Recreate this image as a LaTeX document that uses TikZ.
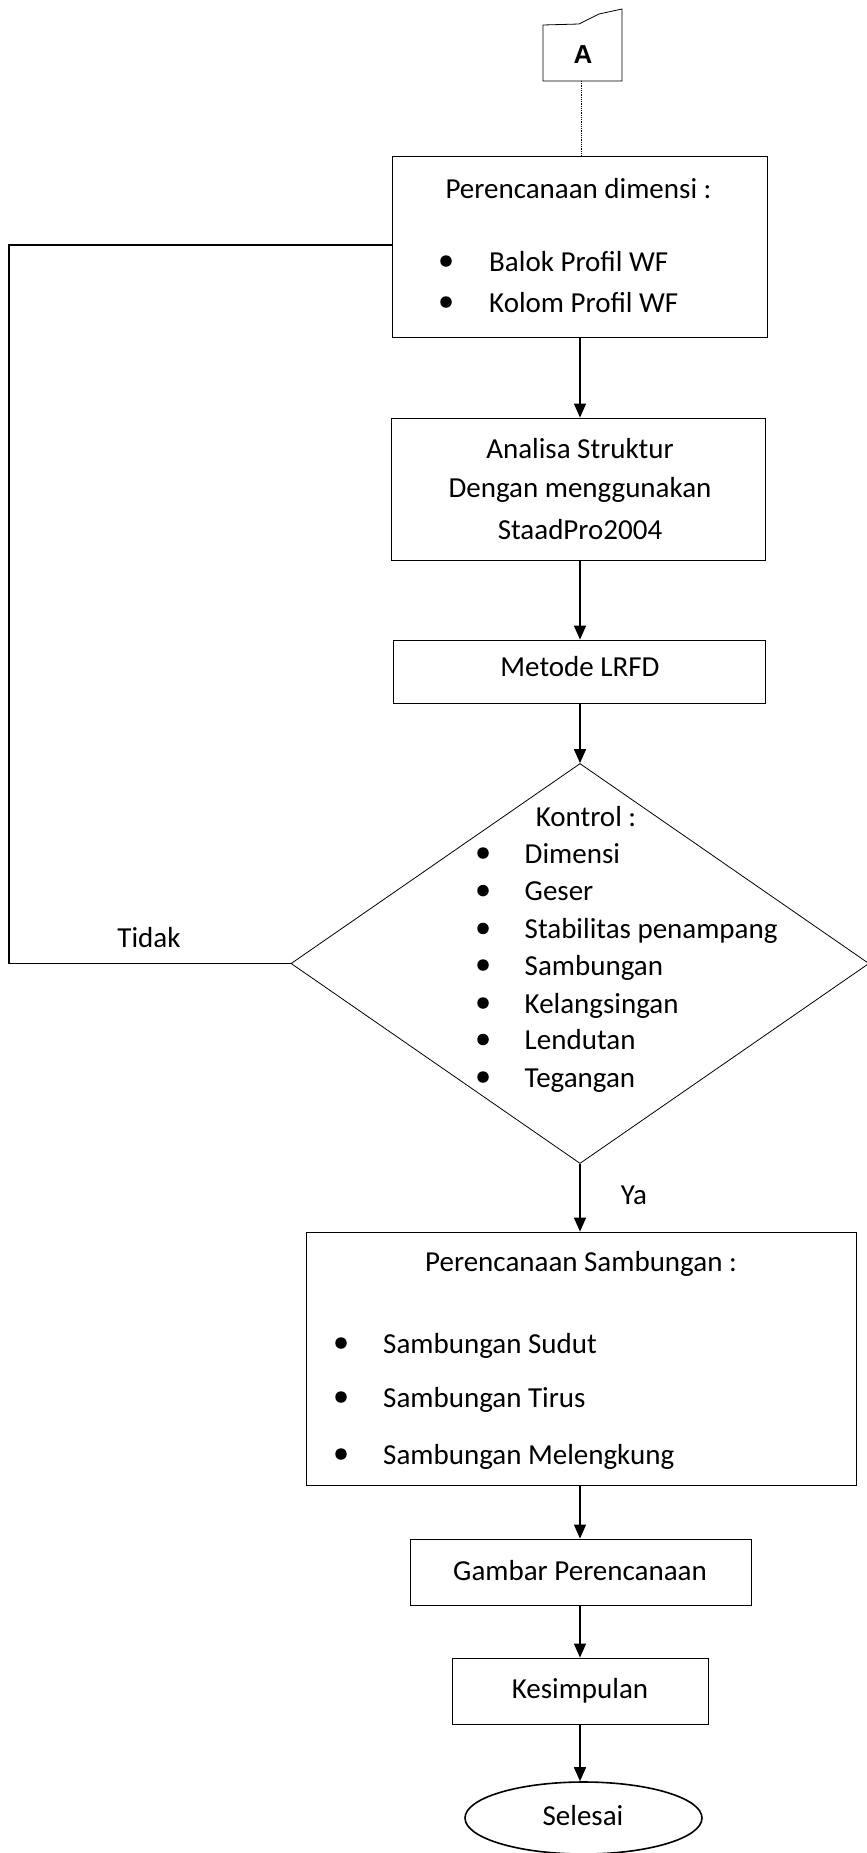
\documentclass[tikz,border=0pt]{standalone}
\usepackage{fontspec}
\setmainfont{Carlito}
\newfontfamily\arialfont{Liberation Sans}
\usetikzlibrary{shapes.geometric,arrows.meta}
\begin{document}
\begin{tikzpicture}[x=1pt,y=-1pt,
  box/.style={draw, line width=0.8pt, inner sep=0pt},
  txt/.style={font=\fontsize{29}{35}\selectfont, inner sep=0pt},
  ctxt/.style={txt, anchor=base, yshift=-10.3pt},
  ltxt/.style={txt, anchor=base west, yshift=-10.3pt},
  arr/.style={line width=1.6pt, -{Triangle[length=14pt,width=12pt]}},
  bul/.style={circle, fill, inner sep=0pt, minimum size=11.5pt},
  loopline/.style={line width=1.6pt}
]
\useasboundingbox (0,0) rectangle (867,1853);
\clip (0,0) rectangle (867,1853);

% off-page connector A
\draw[line width=0.8pt] (543,81) -- (543,25) -- (579,24) -- (599,14) -- (622,9) -- (622,81) -- cycle;
\node[inner sep=0pt, font=\arialfont\bfseries\fontsize{26}{30}\selectfont] (A) at (583,55) {A};
\coordinate (Abot) at (581,81);

% boxes
\node[box, minimum width=375pt, minimum height=181pt] (b1) at (579.5,246.5) {};
\node[box, minimum width=374pt, minimum height=142pt] (b2) at (578,489) {};
\node[box, minimum width=372pt, minimum height=63pt] (b3) at (579,671.5) {};
\node[draw, line width=0.8pt, diamond, inner sep=0pt, minimum width=578pt, minimum height=400pt] (dia) at (580,963.5) {};
\node[box, minimum width=550pt, minimum height=253pt] (b4) at (581,1358.5) {};
\node[box, minimum width=341pt, minimum height=66pt] (b5) at (580.5,1572) {};
\node[box, minimum width=256pt, minimum height=66pt] (b6) at (580,1691) {};
\node[draw, line width=1.6pt, ellipse, inner sep=0pt, minimum width=237pt, minimum height=72pt] (end) at (583.5,1818) {};

% texts box1
\node[ctxt] (t1) at (578.5,188) {Perencanaan dimensi :};
\node[bul] (b1a) at (446,261) {};
\node[ltxt] (t1a) at (489,261) {Balok Profil WF};
\node[bul] (b1b) at (446,302) {};
\node[ltxt] (t1b) at (489,302) {Kolom Profil WF};

% texts box2
\node[ctxt] (t2a) at (580,448) {Analisa Struktur};
\node[ctxt] (t2b) at (580,487) {Dengan menggunakan};
\node[ctxt] (t2c) at (580,529) {StaadPro2004};

% box3
\node[ctxt] (t3) at (580,666) {Metode LRFD};

% diamond texts
\node[ctxt] (tk) at (586,816) {Kontrol :};
\foreach \y/\s [count=\i] in {853/Dimensi, 890.6/Geser, 928.4/Stabilitas penampang, 965/Sambungan, 1003/Kelangsingan, 1039.5/Lendutan, 1077/Tegangan}{
  \node[bul] (db\i) at (483,\y) {};
  \node[ltxt] (dt\i) at (524.5,\y) {\s};
}

% labels
\node[ctxt] (tidak) at (149,937) {Tidak};
\node[ctxt] (ya) at (634,1194) {Ya};

% box4 texts
\node[ctxt] (t4) at (581,1261.5) {Perencanaan Sambungan :};
\node[bul] (b4a) at (341,1343) {};
\node[ltxt] (t4a) at (383,1343) {Sambungan Sudut};
\node[bul] (b4b) at (341,1397) {};
\node[ltxt] (t4b) at (383,1397) {Sambungan Tirus};
\node[bul] (b4c) at (341,1454) {};
\node[ltxt] (t4c) at (383,1454) {Sambungan Melengkung};

\node[ctxt] (t5) at (580,1570) {Gambar Perencanaan};
\node[ctxt] (t6) at (580,1688) {Kesimpulan};
\node[ctxt] (t7) at (583,1815) {Selesai};

% connectors
\draw[line width=0.8pt, densely dotted] (Abot) -- (Abot |- b1.north);
\draw[arr] (b1.south -| 580,0) -- (b2.north -| 580,0);
\draw[arr] (b2.south -| 580,0) -- (b3.north -| 580,0);
\draw[arr] (b3.south -| 580,0) -- (dia.north);
\draw[arr] (dia.south) -- (dia.south |- b4.north);
\draw[arr] (b4.south -| 580,0) -- (b5.north -| 580,0);
\draw[arr] (b5.south -| 580,0) -- (b6.north -| 580,0);
\draw[arr] (b6.south -| 580,0) -- (end.north -| 580,0);
\draw[loopline] (b1.west |- 0,245) -- (9,245) |- (dia.west);
\end{tikzpicture}
\end{document}
